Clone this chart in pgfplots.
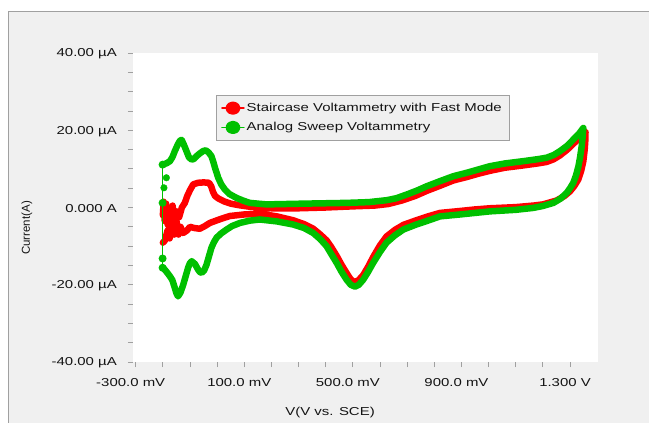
\documentclass[border=0pt]{standalone}
\usepackage{fontspec}
\setmainfont{Liberation Sans}[FakeStretch=1.3]
\newfontfamily\plainfont{Liberation Sans}
\usepackage{pgfplots}
\pgfplotsset{compat=1.18}
\definecolor{cvred}{RGB}{255,0,0}
\definecolor{cvgreen}{RGB}{0,192,0}
\definecolor{panel}{RGB}{240,240,240}
\definecolor{framec}{RGB}{160,160,160}
\definecolor{txt}{RGB}{20,20,20}
\newcommand{\chartfont}{\fontsize{11.5}{13}\selectfont}

\pgfplotstableread{
x y
-200 11.1
-185 11.5
-174 12.0
-165 13.0
-156 14.6
-145 16.3
-137 17.3
-131 17.5
-124 16.5
-113 14.6
-104 13.0
-94 12.4
-85 12.6
-76 13.3
-64 14.0
-52 14.6
-42 14.8
-32 14.3
-21 13.3
-14 11.8
-8 10.3
-2 9.0
4 7.7
15 6.0
28 4.7
45 3.5
71 2.5
95 1.8
120 1.2
150 1.0
182 0.8
250 0.9
320 1.0
400 1.1
480 1.2
560 1.4
625 1.9
660 2.4
700 3.4
740 4.5
772 5.5
820 6.8
870 8.1
920 9.0
960 9.8
1005 10.7
1060 11.4
1128 12.0
1180 12.5
1214 12.9
1240 13.6
1263 14.6
1290 16.0
1312 17.6
1332 19.0
1349 20.6
1346 18.0
1343 15.9
1337 13.0
1331 10.7
1322 8.3
1312 6.4
1300 5.0
1288 3.8
1265 2.3
1239 1.2
1200 0.4
1165 -0.1
1100 -0.6
1005 -1.0
950 -1.4
895 -1.8
821 -2.3
772 -3.5
730 -4.5
686 -5.7
655 -7.2
624 -9.1
600 -11.5
575 -14.3
555 -16.8
538 -18.7
522 -20.0
508 -20.5
492 -20.0
477 -18.7
458 -16.6
440 -14.3
420 -12.0
403 -10.0
380 -8.2
354 -6.6
320 -5.3
280 -4.4
220 -3.6
157 -3.1
120 -3.4
84 -4.0
55 -4.8
35 -5.7
15 -6.7
-2 -7.8
-12 -9.0
-21 -10.4
-30 -12.6
-39 -14.8
-48 -16.3
-57 -16.9
-64 -16.7
-70 -16.1
-82 -14.6
-94 -13.9
-101 -14.5
-107 -15.6
-116 -17.8
-125 -20.0
-135 -22.0
-144 -23.0
-150 -22.2
-156 -20.8
-165 -18.8
-174 -17.8
-187 -16.6
-199 -15.6
}\greendata

\pgfplotstableread{
x y
-200 -2.0
-197 1.5
-193 -3.5
-188 1.0
-182 -4.5
-176 -0.5
-170 -5.5
-164 0.5
-158 -4.0
-150 -1.0
-140 -2.5
-130 0.0
-119 1.2
-110 3.0
-100 4.5
-88 6.0
-70 6.4
-50 6.5
-30 6.4
-22 5.5
-15 4.0
-8 3.0
5 2.3
25 1.6
50 1.0
80 0.6
120 0.2
200 -0.2
300 -0.2
400 0.0
500 0.3
580 0.5
630 0.9
680 1.8
730 3.0
772 4.3
820 5.6
870 7.0
920 7.9
960 8.7
1005 9.5
1060 10.3
1128 10.9
1180 11.4
1214 11.8
1240 12.5
1263 13.5
1290 15.0
1312 16.5
1335 18.0
1357 19.5
1356 17.0
1354 15.0
1349 12.0
1341 9.5
1330 7.2
1315 5.5
1300 4.2
1280 3.0
1250 1.8
1200 0.8
1165 0.5
1100 0.1
1005 -0.2
950 -0.5
895 -0.9
821 -1.4
772 -2.4
730 -3.4
686 -4.5
655 -5.8
624 -7.5
600 -9.8
575 -12.8
555 -15.5
538 -17.5
520 -18.9
505 -19.3
492 -18.6
477 -17.0
458 -14.8
440 -12.5
420 -10.2
403 -8.5
380 -7.0
354 -5.5
320 -4.3
280 -3.3
220 -2.3
157 -1.6
100 -1.8
47 -2.2
20 -2.8
0 -3.3
-27 -4.0
-45 -4.8
-64 -5.5
-85 -5.3
-100 -5.0
-112 -6.0
-125 -6.6
-135 -5.0
-142 -7.0
-150 -3.5
-158 -7.0
-166 -5.0
-175 -8.0
-183 -6.0
-192 -8.5
-200 -9.1
}\reddata

\begin{document}
\begin{tikzpicture}
\useasboundingbox (0pt,0pt) rectangle (649pt,-423pt);
\fill[white] (0pt,0pt) rectangle (649pt,-423pt);
\fill[panel] (8pt,-11pt) rectangle (649pt,-423pt);
\draw[framec, line width=1pt] (8pt,-423pt) -- (8pt,-11pt) -- (649pt,-11pt);
\begin{axis}[
  at={(133pt,-362pt)}, anchor=south west,
  scale only axis, width=465pt, height=309pt,
  xmin=-310, xmax=1403, ymin=-40, ymax=40,
  axis background/.style={fill=white},
  axis line style={draw=none},
  tick align=outside, xtick pos=bottom, ytick pos=left,
  major tick length=5pt, minor tick length=5pt,
  every tick/.style={framec, line width=0.8pt},
  xtick={-300,100,500,900,1300},
  xticklabels={-300.0 mV,100.0 mV,500.0 mV,900.0 mV,1.300 V},
  minor xtick={-200,-100,0,200,300,400,600,700,800,1000,1100,1200},
  ytick={-40,-20,0,20,40},
  yticklabels={-40.00 µA,-20.00 µA,0.000 A,20.00 µA,40.00 µA},
  minor ytick={-35,-30,-25,-15,-10,-5,5,10,15,25,30,35},
  every tick label/.append style={font=\chartfont, text=txt},
  yticklabel style={anchor=east, inner sep=0pt, xshift=-11pt, yshift=-1pt},
  xticklabel style={anchor=north, inner sep=0pt, xshift=-5pt, yshift=-11pt},
  xlabel={V(V vs. SCE)},
  ylabel={\plainfont Current(A)},
  every axis label/.append style={font=\chartfont, text=txt},
  xlabel style={at={(axis description cs:0.4237,-0.1634)}, anchor=center},
  ylabel style={at={(axis description cs:-0.228,0.4337)}, anchor=center},
  legend style={at={(axis description cs:0.1785,0.864)}, anchor=north west,
    draw=framec, fill=panel, font=\chartfont, text=txt,
    inner xsep=5pt, inner ysep=6pt, row sep=5.5pt,
    cells={anchor=west}},
  legend image code/.code={
    \draw[line width=1.5pt] (0pt,0pt) -- (22pt,0pt);
    \fill (11pt,0pt) ellipse (4.3pt and 3.4pt);
  },
]
\addplot[cvred, line width=6.5pt, line join=round, line cap=round] table {\reddata};
\addlegendentry{Staircase Voltammetry with Fast Mode}
\addplot[cvgreen, line width=6.5pt, line join=round, line cap=round] table {\greendata};
\addlegendentry{Analog Sweep Voltammetry}
\addplot[cvgreen, line width=1.3pt, mark=*, mark size=3.3pt, forget plot] coordinates {(-201,-15.6) (-201,-13.2) (-201,1.2) (-201,11.1)};
\addplot[cvgreen, only marks, mark=*, mark size=3.3pt, forget plot] coordinates {(-196,5.1) (-187,7.7)};
\end{axis}
\end{tikzpicture}
\end{document}
